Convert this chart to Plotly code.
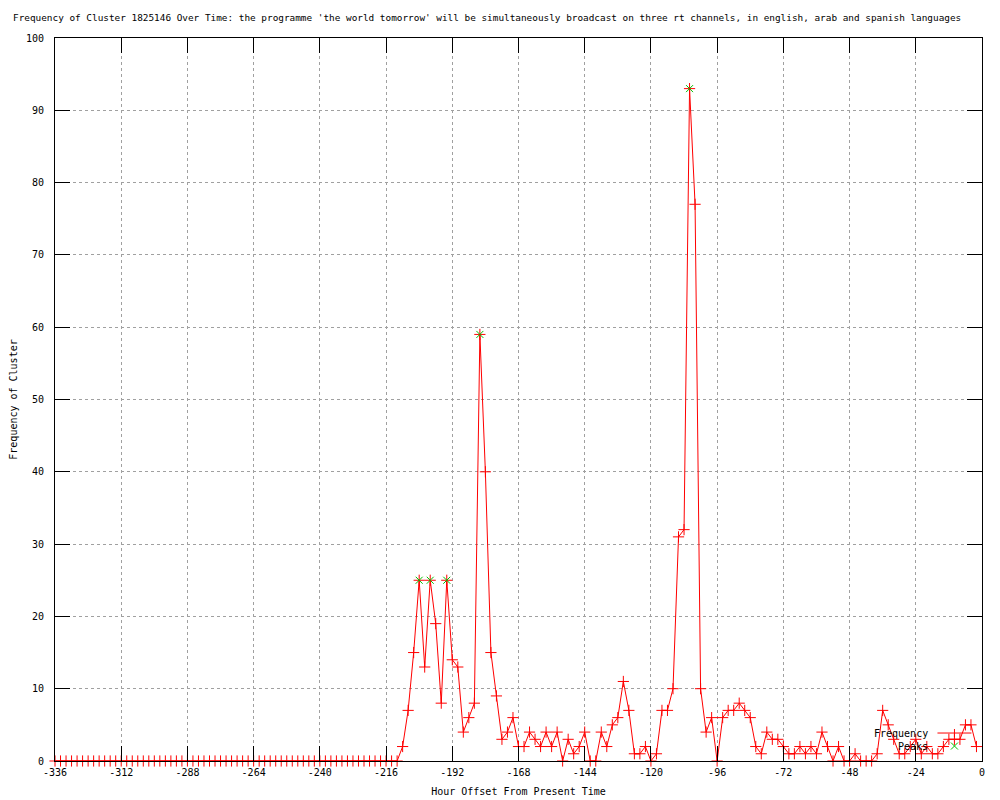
import plotly.graph_objects as go

# Hour offsets (every 2 hours from -336 to -2)
hours = list(range(-336, 0, 2))

frequency = [
    0, 0, 0, 0, 0, 0, 0, 0, 0, 0,   # -336 .. -318
    0, 0, 0, 0, 0, 0, 0, 0, 0, 0,   # -316 .. -298
    0, 0, 0, 0, 0, 0, 0, 0, 0, 0,   # -296 .. -278
    0, 0, 0, 0, 0, 0, 0, 0, 0, 0,   # -276 .. -258
    0, 0, 0, 0, 0, 0, 0, 0, 0, 0,   # -256 .. -238
    0, 0, 0, 0, 0, 0, 0, 0, 0, 0,   # -236 .. -218
    0, 0, 0,                        # -216 .. -212
    2, 7, 15, 25, 13, 25, 19, 8, 25, 14,   # -210 .. -192
    13, 4, 6, 8, 59, 40, 15, 9, 3, 4,      # -190 .. -172
    6, 2, 2, 4, 3, 2, 4, 2, 4, 0,          # -170 .. -152
    3, 1, 2, 4, 0, 0, 4, 2, 5, 6,          # -150 .. -132
    11, 7, 1, 1, 2, 0, 1, 7, 7, 10,        # -130 .. -112
    31, 32, 93, 77, 10, 4, 6, 0, 6, 7,     # -110 .. -92
    7, 8, 7, 6, 2, 1, 4, 3, 3, 2,          # -90 .. -72
    1, 1, 2, 1, 2, 1, 4, 2, 0, 2,          # -70 .. -52
    0, 0, 1, 0, 0, 0, 1, 7, 5, 3,          # -50 .. -32
    1, 1, 2, 3, 1, 2, 1, 1, 2, 3,          # -30 .. -12
    3, 3, 5, 5, 2,                         # -10 .. -2
]

peak_hours = [-204, -200, -194, -182, -106]
peak_values = [25, 25, 25, 59, 93]

x_ticks = [-336, -312, -288, -264, -240, -216, -192, -168, -144, -120, -96, -72, -48, -24, 0]
y_ticks = [0, 10, 20, 30, 40, 50, 60, 70, 80, 90, 100]

title_text = ("Frequency of Cluster 1825146 Over Time: the programme 'the world tomorrow' "
              "will be simultaneously broadcast on three rt channels, in english, arab and spanish languages")

FONT = "DejaVu Sans Mono"
RED = "#ff0000"
GREEN = "#00c000"

# The page body has an 8px margin, so the figure is sized to fill the rest of the window.
FIG_W, FIG_H = 992, 792

fig = go.Figure()
fig.add_trace(go.Scatter(
    x=hours, y=frequency, mode="lines+markers", name="Frequency",
    line=dict(color=RED, width=1),
    marker=dict(symbol="cross-thin", size=8, line=dict(color=RED, width=1), color=RED),
    cliponaxis=False, showlegend=False,
))
fig.add_trace(go.Scatter(
    x=peak_hours, y=peak_values, mode="markers", name="Peaks",
    marker=dict(symbol="x-thin", size=7, line=dict(color=GREEN, width=1), color=GREEN),
    cliponaxis=False, showlegend=False,
))

axis_common = dict(
    showline=True, linecolor="black", linewidth=1, mirror="allticks",
    ticks="inside", ticklen=15, tickcolor="black", tickwidth=1,
    showgrid=True, gridcolor="#a0a0a0", griddash="dot", gridwidth=1,
    zeroline=False, automargin=False,
    tickfont=dict(family=FONT, size=10, color="black"),
)

fig.update_xaxes(range=[-336, 0], tickvals=x_ticks, ticktext=[str(v) for v in x_ticks],
                 title=dict(text="Hour Offset From Present Time", font=dict(family=FONT, size=10, color="black"), standoff=10),
                 ticklabelstandoff=2, **axis_common)
fig.update_yaxes(range=[0, 100], tickvals=y_ticks, ticktext=[str(v) for v in y_ticks],
                 title=dict(text="Frequency of Cluster", font=dict(family=FONT, size=10, color="black"), standoff=9),
                 ticklabelstandoff=8, **axis_common)

# Legend drawn gnuplot-style: text on left, sample on right
legend_x = 0.9439
fig.add_annotation(xref="paper", yref="paper", x=legend_x, y=0.0387, text="Frequency",
                   showarrow=False, xanchor="right", yanchor="middle",
                   font=dict(family=FONT, size=10, color="black"))
fig.add_annotation(xref="paper", yref="paper", x=legend_x, y=0.0207, text="Peaks",
                   showarrow=False, xanchor="right", yanchor="middle",
                   font=dict(family=FONT, size=10, color="black"))
# Frequency sample line and marker
fig.add_shape(type="line", xref="paper", yref="paper", xsizemode="pixel", ysizemode="pixel",
              xanchor=0.9703, yanchor=0.0387, x0=-17, x1=17, y0=0, y1=0,
              line=dict(color=RED, width=1))
fig.add_shape(type="line", xref="paper", yref="paper", xsizemode="pixel", ysizemode="pixel",
              xanchor=0.9703, yanchor=0.0387, x0=0, x1=0, y0=-4, y1=4,
              line=dict(color=RED, width=1))
# Peaks sample marker (x)
fig.add_shape(type="line", xref="paper", yref="paper", xsizemode="pixel", ysizemode="pixel",
              xanchor=0.9703, yanchor=0.0207, x0=-3.5, x1=3.5, y0=-3.5, y1=3.5,
              line=dict(color=GREEN, width=1))
fig.add_shape(type="line", xref="paper", yref="paper", xsizemode="pixel", ysizemode="pixel",
              xanchor=0.9703, yanchor=0.0207, x0=-3.5, x1=3.5, y0=3.5, y1=-3.5,
              line=dict(color=GREEN, width=1))

fig.update_layout(
    width=FIG_W, height=FIG_H,
    margin=dict(l=47, r=18, t=30, b=39, autoexpand=False),
    paper_bgcolor="white", plot_bgcolor="white",
    font=dict(family=FONT, size=10, color="black"),
    title=dict(text=title_text, xref="container", yref="container", x=5 / FIG_W, y=1 - 10 / FIG_H,
               xanchor="left", yanchor="middle", automargin=False,
               font=dict(family=FONT, size=9.4, color="black")),
    showlegend=False,
)

fig.write_html("out.html")
